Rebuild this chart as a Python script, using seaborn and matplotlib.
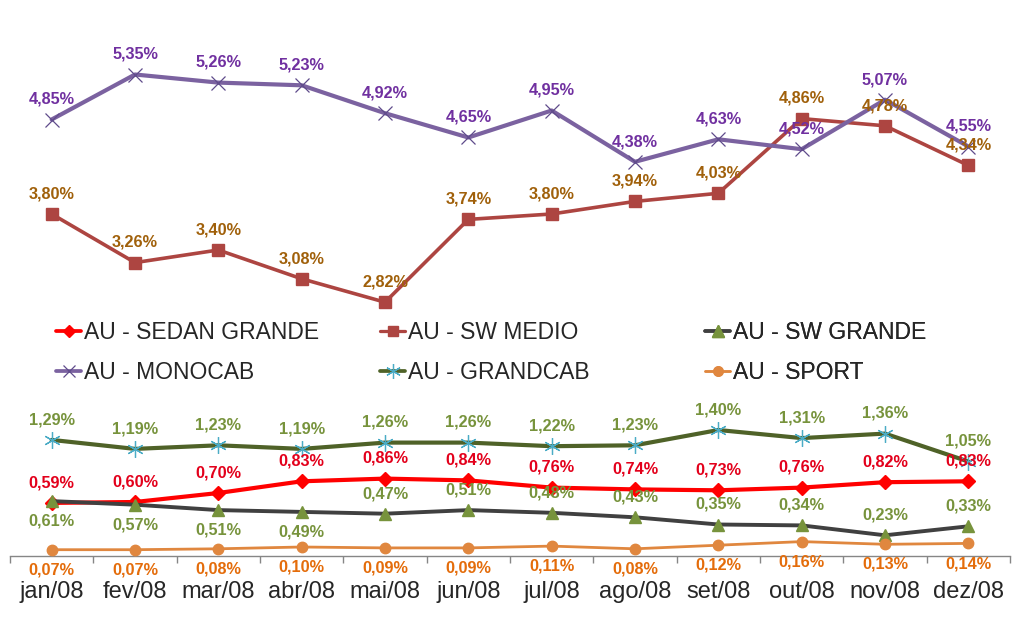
import numpy as np
import matplotlib
matplotlib.use("Agg")
import matplotlib.pyplot as plt
import seaborn as sns
from matplotlib.lines import Line2D


# --------------------------------------------------
# Data (market share, %)
# --------------------------------------------------

months = ["jan/08", "fev/08", "mar/08", "abr/08", "mai/08", "jun/08",
          "jul/08", "ago/08", "set/08", "out/08", "nov/08", "dez/08"]

sedan_grande = [0.59, 0.60, 0.70, 0.83, 0.86, 0.84, 0.76, 0.74, 0.73, 0.76, 0.82, 0.83]
sw_medio = [3.80, 3.26, 3.40, 3.08, 2.82, 3.74, 3.80, 3.94, 4.03, 4.86, 4.78, 4.34]
sw_grande = [0.61, 0.57, 0.51, 0.49, 0.47, 0.51, 0.48, 0.43, 0.35, 0.34, 0.23, 0.33]
monocab = [4.85, 5.35, 5.26, 5.23, 4.92, 4.65, 4.95, 4.38, 4.63, 4.52, 5.07, 4.55]
grandcab = [1.29, 1.19, 1.23, 1.19, 1.26, 1.26, 1.22, 1.23, 1.40, 1.31, 1.36, 1.05]
sport = [0.07, 0.07, 0.08, 0.10, 0.09, 0.09, 0.11, 0.08, 0.12, 0.16, 0.13, 0.14]


# --------------------------------------------------
# Styles
# --------------------------------------------------

series = [
    dict(name="AU - SEDAN GRANDE", values=sedan_grande, color="#FF0000",
         marker="D", mfc="#FF0000", mec="#FF0000", ms=7, mew=1, lw=3.0,
         label_color="#E3001B", side=[1] * 12),
    dict(name="AU - SW MEDIO", values=sw_medio, color="#AD4541",
         marker="s", mfc="#AD4541", mec="#AD4541", ms=8.5, mew=1, lw=2.6,
         label_color="#A0600A", side=[1] * 12),
    dict(name="AU - SW GRANDE", values=sw_grande, color="#404040",
         marker="^", mfc="#77933C", mec="#77933C", ms=9, mew=1, lw=2.8,
         label_color="#77933C", side=[-1] * 4 + [1] * 8),
    dict(name="AU - MONOCAB", values=monocab, color="#7B62A0",
         marker="x", mfc="#5F4B8B", mec="#5F4B8B", ms=10, mew=0.9, lw=3.0,
         label_color="#7030A0", side=[1] * 12),
    dict(name="AU - GRANDCAB", values=grandcab, color="#4F6228",
         marker=(6, 2, 0), mfc="#4BACC6", mec="#4BACC6", ms=12, mew=0.9, lw=3.0,
         label_color="#77933C", side=[1] * 12),
    dict(name="AU - SPORT", values=sport, color="#E0873F",
         marker="o", mfc="#E0873F", mec="#E0873F", ms=7.5, mew=1, lw=2.0,
         label_color="#E46C0A", side=[-1] * 12),
]


# --------------------------------------------------
# Plot
# --------------------------------------------------

sns.set_style("white")
plt.rcParams["font.family"] = ["Liberation Sans", "DejaVu Sans"]

fig = plt.figure(figsize=(10.17, 6.34), dpi=100)
ax = fig.add_axes([10 / 1017, 1 - 556 / 634, 1000 / 1017, 540 / 634])

x = np.arange(len(months))

for s in series:
    sns.lineplot(
        x=x, y=s["values"], ax=ax, color=s["color"], linewidth=s["lw"],
        marker=s["marker"], markersize=s["ms"], markerfacecolor=s["mfc"],
        markeredgecolor=s["mec"], markeredgewidth=s["mew"],
        legend=False, zorder=3,
    )
    for xi, v, side in zip(x, s["values"], s["side"]):
        ax.annotate(
            f"{v:.2f}%".replace(".", ","),
            (xi, v), xytext=(0, 14.5 * side), textcoords="offset points",
            ha="center", va="center", fontsize=11.7, fontweight="bold",
            color=s["label_color"], zorder=4,
        )

ax.set_xlim(-0.5, len(months) - 0.5)
ax.set_ylim(0, 6.0)

ax.set_xticks(x)
ax.set_xticklabels(months, fontsize=17)
ax.set_xticks(np.arange(-0.5, len(months)), minor=True)
ax.tick_params(axis="x", which="major", length=0, pad=18)
ax.tick_params(axis="x", which="minor", length=5, width=1,
               color="#868686", direction="out", bottom=True)
ax.set_yticks([])
ax.set_xlabel("")
ax.set_ylabel("")

for side in ["top", "left", "right"]:
    ax.spines[side].set_visible(False)
ax.spines["bottom"].set_color("#868686")
ax.spines["bottom"].set_linewidth(1)


# --------------------------------------------------
# Legend: three columns of two rows
# --------------------------------------------------

def handle(s):
    return Line2D([0], [0], color=s["color"], linewidth=s["lw"] * 0.9,
                  marker=s["marker"], markersize=s["ms"] * 0.9,
                  markerfacecolor=s["mfc"], markeredgecolor=s["mec"],
                  markeredgewidth=s["mew"])


columns = [(series[0], series[3]), (series[1], series[4]), (series[2], series[5])]
col_x = [56, 380, 705]
legend_y = 1 - 352.5 / 634

for i, (top, bottom) in enumerate(columns):
    leg = ax.legend(
        handles=[handle(top), handle(bottom)],
        labels=[top["name"], bottom["name"]],
        loc="center left", bbox_to_anchor=(col_x[i] / 1017, legend_y),
        bbox_transform=fig.transFigure, frameon=False, fontsize=16.5,
        handlelength=1.1, handletextpad=0.12, labelspacing=0.72,
        borderpad=0, borderaxespad=0,
    )
    ax.add_artist(leg)

fig.savefig("out.png", dpi=100)
